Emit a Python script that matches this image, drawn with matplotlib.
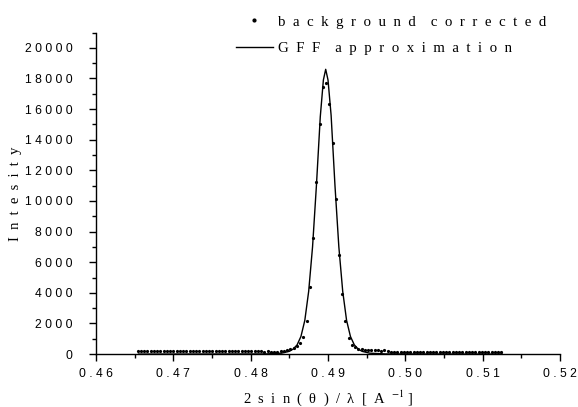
import numpy as np
import matplotlib
matplotlib.use("Agg")
import matplotlib.pyplot as plt
from matplotlib.ticker import MultipleLocator, FuncFormatter
from matplotlib.lines import Line2D

plt.rcParams['mathtext.fontset'] = 'stix'

# measured points (background corrected), evenly sampled in 2sin(theta)/lambda
x_start = 0.46538
x_step = 0.00042
y_points = [
    190, 200, 195, 205, 200, 210, 205, 200, 210, 205,
    200, 205, 210, 200, 205, 200, 195, 205, 200, 195,
    200, 190, 195, 200, 190, 195, 185, 190, 195, 185,
    190, 180, 185, 190, 180, 175, 180, 170, 175, 165,
    170, 160, 155, 160, 170, 200, 260, 330, 420, 560,
    740, 1130, 2160, 4390, 7560, 11230, 15020, 17460, 17680, 16330,
    13770, 10100, 6450, 3910, 2190, 1050, 610, 480, 350, 300,
    260, 250, 240, 250, 240, 230, 235, 170, 160, 150,
    155, 150, 145, 150, 140, 145, 150, 140, 145, 140,
    135, 140, 145, 135, 140, 130, 135, 140, 130, 135,
    130, 125, 130, 135, 125, 130, 120, 125, 130, 120,
    125, 120, 125,
]
x_points = x_start + x_step * np.arange(len(y_points))

# GFF approximation (fitted curve)
x_fit = [0.4655, 0.4820, 0.4840, 0.4850, 0.4855, 0.4860, 0.4865, 0.4870,
         0.4875, 0.4880, 0.4885, 0.4890, 0.4894, 0.4897, 0.4900, 0.4904,
         0.4909, 0.4914, 0.4919, 0.4924, 0.4929, 0.4934, 0.4939, 0.4944,
         0.4954, 0.4974, 0.5125]
y_fit = [0, 10, 60, 180, 330, 600, 1150, 2200,
         4100, 7000, 11000, 15500, 17900, 18600, 17900, 15600,
         11000, 7000, 4100, 2200, 1150, 600, 330, 180,
         60, 10, 0]


def spaced(s, sep=" "):
    return sep.join(s)


fig = plt.figure(figsize=(5.78, 4.07), dpi=100)
ax = fig.add_axes([0.166, 0.130, 0.803, 0.790])

ax.plot(x_fit, y_fit, color="black", lw=1.0)
ax.plot(x_points, y_points, "o", color="black", markersize=2.3, mec="none")

ax.set_xlim(0.46, 0.52)
ax.set_ylim(0, 21000)

ax.spines['top'].set_visible(False)
ax.spines['right'].set_visible(False)
ax.spines['left'].set_linewidth(1.0)
ax.spines['bottom'].set_linewidth(1.0)

ax.xaxis.set_major_locator(MultipleLocator(0.01))
ax.xaxis.set_minor_locator(MultipleLocator(0.005))
ax.yaxis.set_major_locator(MultipleLocator(2000))
ax.yaxis.set_minor_locator(MultipleLocator(1000))
ax.xaxis.set_major_formatter(FuncFormatter(lambda v, p: spaced("%.2f" % v)))
ax.yaxis.set_major_formatter(FuncFormatter(lambda v, p: spaced("%d" % v)))

ax.tick_params(which='major', direction='out', length=5, width=1.0)
ax.tick_params(which='minor', direction='out', length=3, width=1.0)
ax.tick_params(axis='y', which='major', pad=12)
ax.tick_params(axis='x', which='major', pad=5)
for lab in ax.get_xticklabels() + ax.get_yticklabels():
    lab.set_fontfamily('Liberation Sans')
    lab.set_fontsize(8.7)

ax.set_xlabel("2  s  i  n  (  θ  )  /  λ  [  A  $^{-1}$ ]",
              fontfamily='Liberation Serif', fontsize=10.5, labelpad=6)
ax.set_ylabel(spaced("Intesity", "  "), fontfamily='Liberation Serif',
              fontsize=10.5, labelpad=2)

handles = [Line2D([], [], ls="none", marker="o", color="black", markersize=2.0),
           Line2D([], [], color="black", lw=1.0)]
labels = ["  ".join("background") + "    " + "  ".join("corrected"),
          "  ".join("GFF") + "    " + "  ".join("approximation")]
fig.legend(handles, labels, loc="upper left", bbox_to_anchor=(0.39, 0.988),
           frameon=False, prop={'family': 'Liberation Serif', 'size': 10.7},
           handlelength=2.5, handletextpad=0.35, labelspacing=0.9,
           borderaxespad=0.3)

fig.savefig("out.png", dpi=100)
